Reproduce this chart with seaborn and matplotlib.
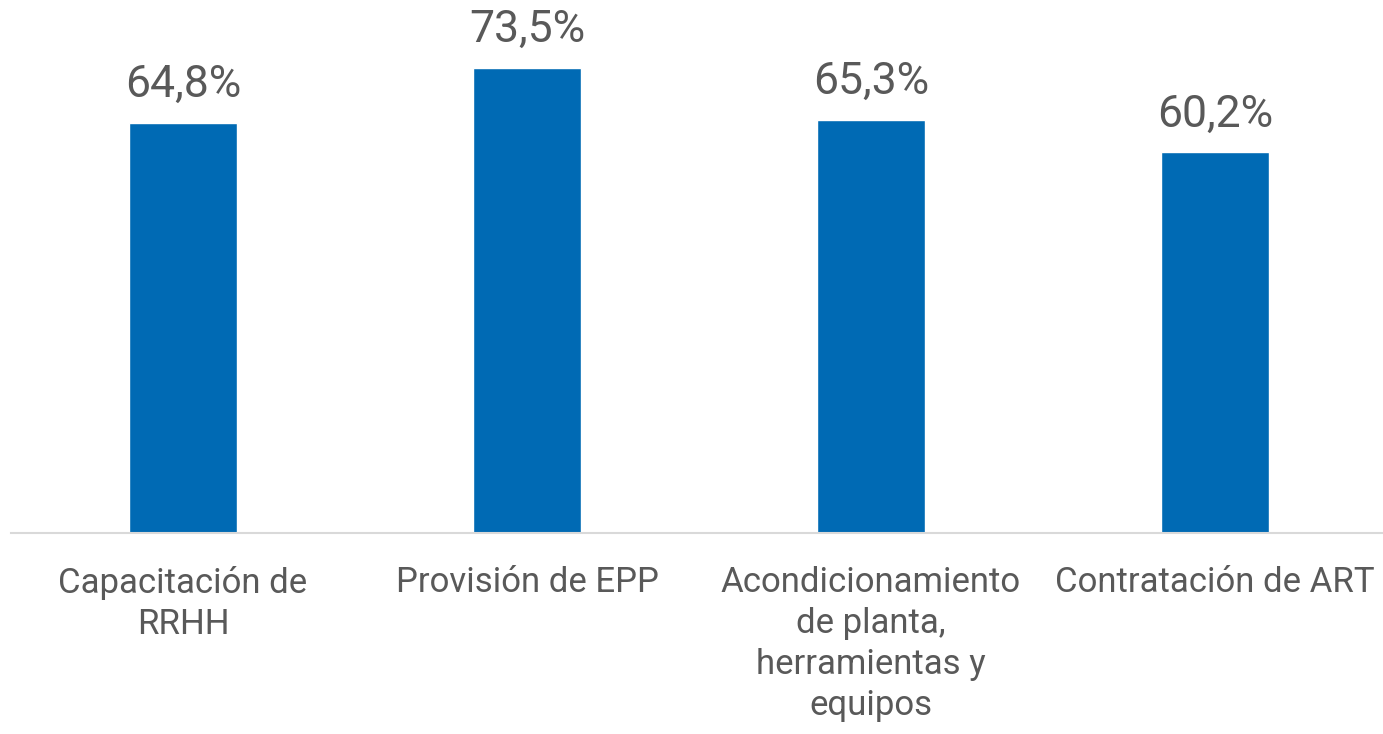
import pandas as pd
import matplotlib.pyplot as plt
import seaborn as sns

# Data
categories = ['Capacitación de\nRRHH', 'Provisión de EPP',
              'Acondicionamiento\nde planta,\nherramientas y\nequipos',
              'Contratación de ART']
values = [64.8, 73.5, 65.3, 60.2]

df = pd.DataFrame({'categoria': categories, 'valor': values})

sns.set_theme(style="white")
plt.rcParams['font.family'] = ['Roboto', 'DejaVu Sans']

text_color = '#595959'
bar_color = '#006AB4'

fig = plt.figure(figsize=(13.83, 7.34), dpi=100)
ax = fig.add_axes([11 / 1383, (734 - 533) / 734, 1376 / 1383, 533 / 734])

sns.barplot(x='categoria', y='valor', data=df, color=bar_color,
            width=0.315, saturation=1, ax=ax)

ax.set_ylim(0, 84.2)
ax.set_xlim(-0.5, 3.5)

# Value labels above bars
for i, val in enumerate(values):
    ax.text(i, val + 2.6, f'{val:.1f}%'.replace('.', ','), ha='center',
            va='bottom', fontsize=32, color=text_color)

# Axis styling: only the light baseline
for side in ['top', 'right', 'left']:
    ax.spines[side].set_visible(False)
ax.spines['bottom'].set_color('#D9D9D9')
ax.spines['bottom'].set_linewidth(1.5)
ax.set_yticks([])
ax.set_xlabel('')
ax.set_ylabel('')
ax.tick_params(axis='x', length=0, pad=24)
for lbl in ax.get_xticklabels():
    lbl.set_fontsize(25)
    lbl.set_color(text_color)
    lbl.set_linespacing(1.3)
    lbl.set_ha('center')
    lbl.set_multialignment('center')

plt.savefig('out.png', dpi=100)
